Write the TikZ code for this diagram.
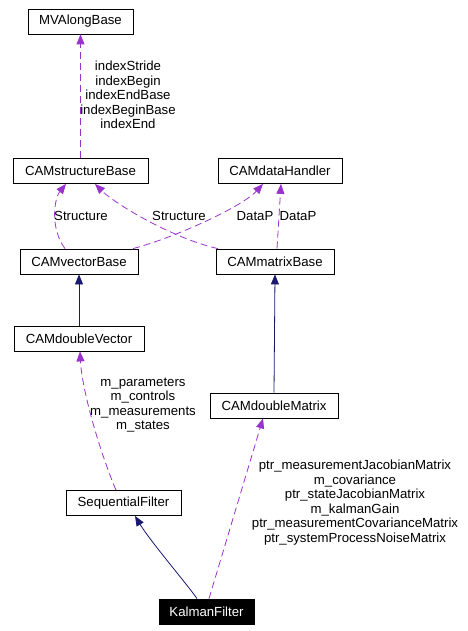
\documentclass[tikz,border=0pt]{standalone}
\usepackage{fontspec}
\setmainfont{Liberation Sans}
\usetikzlibrary{arrows.meta}
\begin{document}
\begin{tikzpicture}[x=1pt,y=-1pt,
    every node/.style={font=\fontsize{13.2}{14.6}\selectfont},
    cls/.style={draw,line width=0.8pt,minimum height=25pt,inner sep=0pt},
    me/.style={cls,fill=black,text=white},
    usage/.style={draw=usecol,line width=0.8pt,dash pattern=on 7pt off 4pt,
      -{Triangle[length=10pt,width=8pt]}},
    inherit/.style={draw=inhcol,line width=0.8pt,
      -{Triangle[length=10pt,width=8pt]}},
    lbl/.style={align=center,inner sep=0pt}]
      \definecolor{usecol}{RGB}{154,50,205}
      \definecolor{inhcol}{RGB}{25,25,112}
      \useasboundingbox (0,0) rectangle (467,631);
      \draw
        (80.5,21.5) node[cls,minimum width=105pt] (mvalong){MVAlongBase}
        (80.5,171) node[cls,minimum width=135pt] (structbase){CAMstructureBase}
        (280,171) node[cls,minimum width=124pt] (datahandler){CAMdataHandler}
        (79,261.5) node[cls,minimum width=118pt] (vectorbase){CAMvectorBase}
        (275,261.5) node[cls,minimum width=118pt] (matrixbase){CAMmatrixBase}
        (79,338.5) node[cls,minimum width=130pt] (dvector){CAMdoubleVector}
        (274,405.5) node[cls,minimum width=128pt] (dmatrix){CAMdoubleMatrix}
        (123.5,503) node[cls,minimum width=115pt] (seqfilter){SequentialFilter}
        (206.5,611.5) node[me,minimum width=95pt] (kalman){KalmanFilter};
      \begin{scope}[usage]
        \draw (structbase.north) to (mvalong.south);
        \draw ([xshift=-14pt]vectorbase.north) .. controls +(-15,-20) and +(-12,15) .. ([xshift=-14.5pt]structbase.south);
        \draw ([xshift=-57pt]matrixbase.north) .. controls +(-45,-10) and +(20,20) .. ([xshift=14.5pt]structbase.south);
        \draw ([xshift=54pt]vectorbase.north) .. controls +(45,-12) and +(-20,22) .. ([xshift=-17pt]datahandler.south);
        \draw ([xshift=2pt]matrixbase.north) to ([xshift=1pt]datahandler.south);
        \draw ([xshift=-7.5pt]seqfilter.north) .. controls +(-15,-35) and +(2,40) .. ([xshift=1pt]dvector.south);
        \draw ([xshift=2.5pt]kalman.north) to ([xshift=-11pt]dmatrix.south);
      \end{scope}
      \begin{scope}[inherit]
        \draw (dvector.north) to (vectorbase.south);
        \draw (dmatrix.north) to (matrixbase.south);
        \draw ([xshift=-9.5pt]kalman.north) .. controls +(-8,-12) and +(15,25) .. ([xshift=11.5pt]seqfilter.south);
      \end{scope}
      \node[lbl] (idxlbl) at (128,95) {indexStride\\indexBegin\\indexEndBase\\indexBeginBase\\indexEnd};
      \node[lbl] (structlbla) at (81,216) {Structure};
      \node[lbl] (structlblb) at (179,216) {Structure};
      \node[lbl] (datalbla) at (255,216) {DataP};
      \node[lbl] (datalblb) at (298,216) {DataP};
      \node[lbl] (veclbl) at (143,405) {m\_parameters\\m\_controls\\m\_measurements\\m\_states};
      \node[lbl] (matlbl) at (355,502.5) {ptr\_measurementJacobianMatrix\\m\_covariance\\ptr\_stateJacobianMatrix\\m\_kalmanGain\\ptr\_measurementCovarianceMatrix\\ptr\_systemProcessNoiseMatrix};
    \end{tikzpicture}
\end{document}
